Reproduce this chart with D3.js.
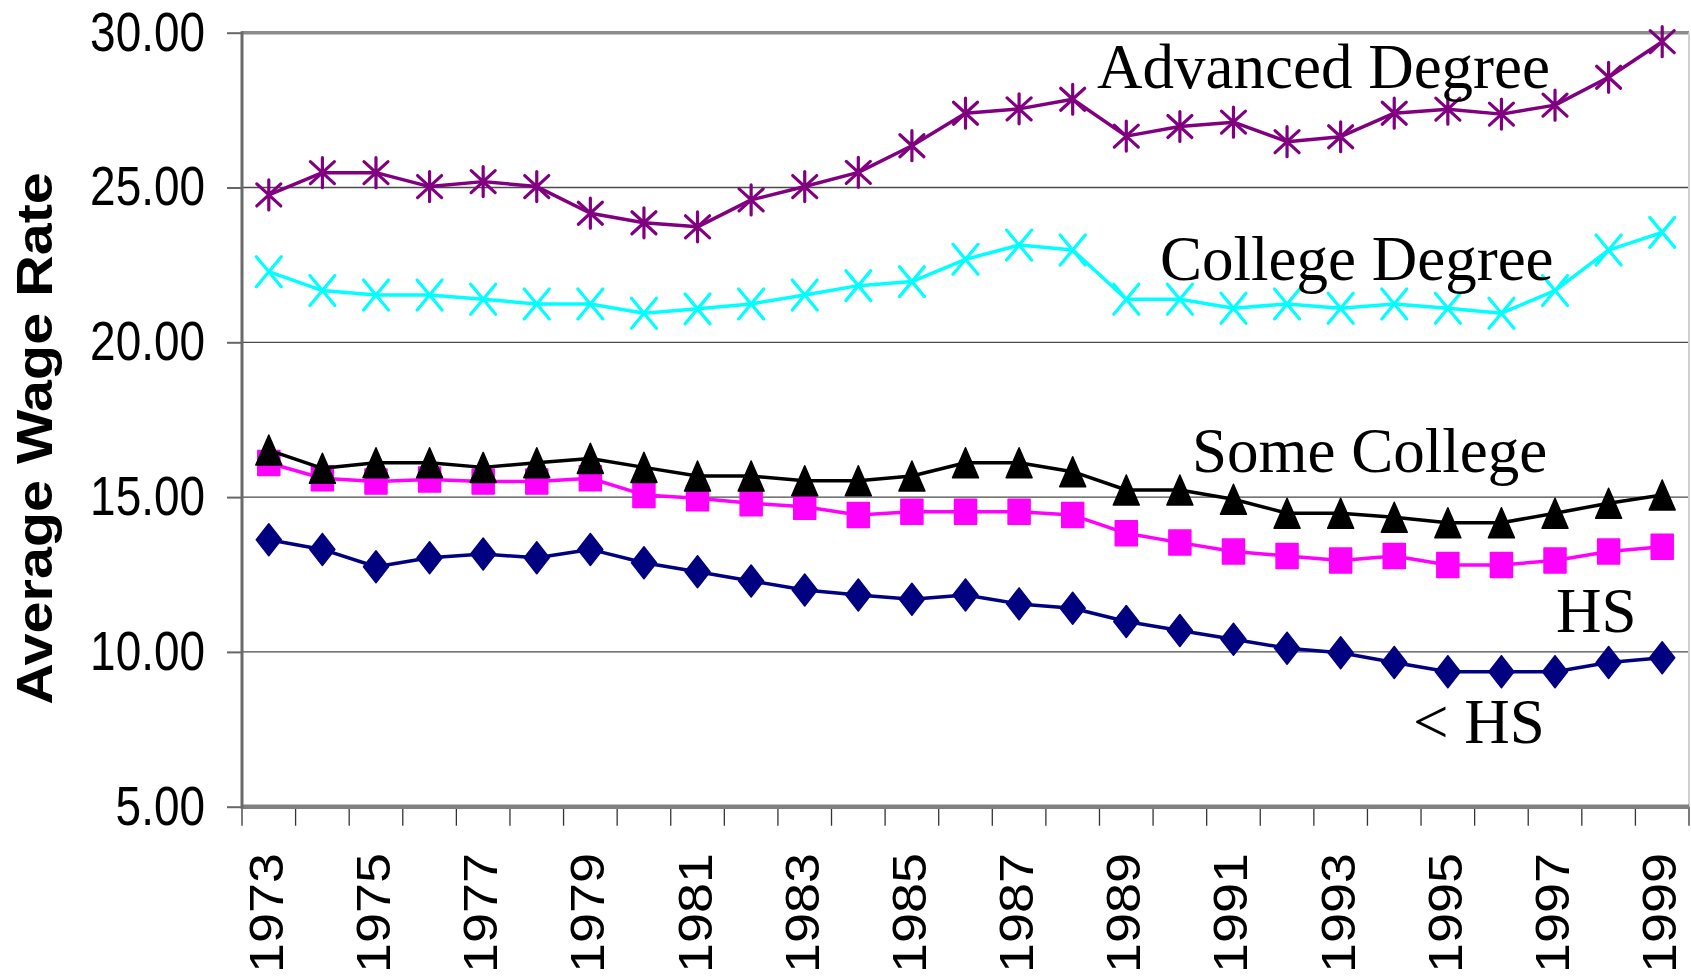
<!DOCTYPE html>
<html>
<head>
<meta charset="utf-8">
<script src="https://cdn.jsdelivr.net/npm/d3@7/dist/d3.min.js"></script>
<style>
body { margin: 0; background: #fff; }
svg { display: block; }
</style>
</head>
<body>
<svg id="chart" width="1691" height="979"></svg>
<script>
var years = [1973, 1974, 1975, 1976, 1977, 1978, 1979, 1980, 1981, 1982, 1983, 1984, 1985, 1986,
	1987, 1988, 1989, 1990, 1991, 1992, 1993, 1994, 1995, 1996, 1997, 1998, 1999];
var yearLabels = [1973, 1975, 1977, 1979, 1981, 1983, 1985, 1987, 1989, 1991, 1993, 1995, 1997, 1999];
var yTicks = [5, 10, 15, 20, 25, 30];

var lessHS = [13.62, 13.31, 12.75, 13.04, 13.16, 13.04, 13.31, 12.88, 12.59, 12.29, 12.00, 11.84, 11.70, 11.84,
	11.55, 11.41, 10.98, 10.69, 10.41, 10.12, 9.97, 9.66, 9.36, 9.36, 9.36, 9.66, 9.81];
var hs = [16.10, 15.61, 15.50, 15.57, 15.50, 15.50, 15.61, 15.07, 14.96, 14.80, 14.69, 14.42, 14.53, 14.53,
	14.53, 14.42, 13.83, 13.53, 13.24, 13.10, 12.95, 13.10, 12.81, 12.81, 12.95, 13.24, 13.40];
var someCollege = [16.52, 15.93, 16.11, 16.11, 15.96, 16.11, 16.25, 15.96, 15.68, 15.68, 15.53, 15.53, 15.68, 16.11,
	16.11, 15.82, 15.23, 15.23, 14.93, 14.48, 14.48, 14.35, 14.17, 14.17, 14.48, 14.80, 15.07];
var college = [22.28, 21.67, 21.53, 21.53, 21.39, 21.24, 21.24, 20.94, 21.08, 21.24, 21.53, 21.83, 21.96, 22.68,
	23.14, 22.98, 21.39, 21.39, 21.10, 21.24, 21.10, 21.24, 21.10, 20.94, 21.67, 22.98, 23.55];
var advanced = [24.76, 25.48, 25.48, 25.03, 25.19, 25.03, 24.17, 23.86, 23.73, 24.60, 25.03, 25.49, 26.35, 27.40,
	27.54, 27.85, 26.66, 26.97, 27.11, 26.48, 26.64, 27.40, 27.53, 27.37, 27.66, 28.56, 29.71];

var seriesNames = ["< HS", "HS", "Some College", "College Degree", "Advanced Degree"];
var yTitle = "Average Wage Rate";

// drawing styles, one per series (same order as seriesNames)
var styles = [
	{ values: lessHS, color: "#000080", marker: "diamond" },
	{ values: hs, color: "#ff00ff", marker: "square" },
	{ values: someCollege, color: "#000000", marker: "triangle" },
	{ values: college, color: "#00ffff", marker: "cross" },
	{ values: advanced, color: "#800080", marker: "star" }
];

// where the series names sit (baseline-left, px)
var labelLayout = [
	{ x: 1413, y: 743 },
	{ x: 1556, y: 632 },
	{ x: 1192, y: 472 },
	{ x: 1160, y: 280 },
	{ x: 1097, y: 88 }
];

var svg = d3.select("#chart");
// note: "top" is reserved on window, so plot* names
var plotLeft = 242, plotRight = 1689, plotTop = 32.7, plotBottom = 806.7;

var x = d3.scaleBand().domain(years).range([plotLeft, plotRight]);
var y = d3.scaleLinear().domain([5, 30]).range([plotBottom, plotTop]);

function cx(year)
{
	return x(year) + x.bandwidth() / 2;
}

// squeeze / stretch a text node along its length
function fitText(sel, ratio)
{
	sel.each(function()
	{
		var w = this.getComputedTextLength();
		d3.select(this)
			.attr("textLength", w * ratio)
			.attr("lengthAdjust", "spacingAndGlyphs");
	});
}

// gridlines
svg.append("g")
	.selectAll("line")
	.data(yTicks.filter(function(d) { return d > 5 && d < 30; }))
	.enter()
	.append("line")
	.attr("x1", plotLeft)
	.attr("x2", plotRight)
	.attr("y1", function(d) { return y(d); })
	.attr("y2", function(d) { return y(d); })
	.attr("stroke", "#4a4a4a")
	.attr("stroke-width", 1.3);

// y axis
var yAxis = d3.axisLeft(y)
	.tickValues(yTicks)
	.tickSize(15)
	.tickPadding(22)
	.tickFormat(d3.format(".2f"));

var yAxisG = svg.append("g")
	.attr("transform", "translate(" + plotLeft + ",0)")
	.call(yAxis);

yAxisG.select(".domain").remove();
yAxisG.selectAll(".tick line").attr("stroke", "#666").attr("stroke-width", 2);
yAxisG.selectAll(".tick text")
	.attr("font-family", "'Liberation Sans', Arial, sans-serif")
	.attr("font-size", 56)
	.attr("fill", "#000")
	.attr("dy", "0.31em")
	.call(fitText, 0.82);

// plot frame
svg.append("line")
	.attr("x1", plotLeft).attr("x2", plotRight).attr("y1", plotTop).attr("y2", plotTop)
	.attr("stroke", "#8c8c8c").attr("stroke-width", 3.5);
svg.append("line")
	.attr("x1", plotRight).attr("x2", plotRight).attr("y1", plotTop).attr("y2", plotBottom)
	.attr("stroke", "#cfcfcf").attr("stroke-width", 2);

// x ticks on category boundaries
var bounds = years.map(function(d) { return x(d); }).concat([plotRight]);
svg.append("g")
	.selectAll("line")
	.data(bounds)
	.enter()
	.append("line")
	.attr("x1", function(d) { return d; })
	.attr("x2", function(d) { return d; })
	.attr("y1", plotBottom)
	.attr("y2", plotBottom + 19)
	.attr("stroke", "#333")
	.attr("stroke-width", 1.3);

svg.append("line")
	.attr("x1", plotLeft).attr("x2", plotRight).attr("y1", plotBottom).attr("y2", plotBottom)
	.attr("stroke", "#808080").attr("stroke-width", 4.5);
svg.append("line")
	.attr("x1", plotLeft).attr("x2", plotLeft).attr("y1", plotTop - 1.5).attr("y2", plotBottom + 2)
	.attr("stroke", "#6a6a6a").attr("stroke-width", 3);

// x labels
svg.append("g")
	.selectAll("text")
	.data(yearLabels)
	.enter()
	.append("text")
	.attr("transform", function(d)
	{
		return "translate(" + (cx(d) + 14) + "," + 853 + ") rotate(-90)";
	})
	.attr("text-anchor", "end")
	.attr("font-family", "'Liberation Sans', Arial, sans-serif")
	.attr("font-size", 49)
	.text(function(d) { return d; })
	.call(fitText, 1.1);

// y title
svg.append("text")
	.attr("transform", "translate(52,438.5) rotate(-90)")
	.attr("text-anchor", "middle")
	.attr("font-family", "'Liberation Sans', Arial, sans-serif")
	.attr("font-weight", "bold")
	.attr("font-size", 50)
	.text(yTitle)
	.call(fitText, 1.15);

// marker shapes
function markerPath(type)
{
	if (type == "diamond") return "M0,-16L12.5,0L0,16L-12.5,0Z";
	if (type == "square") return "M-11,-12.5H11V12.5H-11Z";
	if (type == "triangle") return "M0,-15L13,15H-13Z";
	if (type == "cross") return "M-12.5,-15L12.5,15M-12.5,15L12.5,-15";
	return "M0,-15V15M-12,-11L12,11M-12,11L12,-11";
}

var line = d3.line()
	.x(function(d, i) { return cx(years[i]); })
	.y(function(d) { return y(d); });

styles.forEach(function(s)
{
	var g = svg.append("g");

	g.append("path")
		.attr("d", line(s.values))
		.attr("fill", "none")
		.attr("stroke", s.color)
		.attr("stroke-width", 3.5)
		.attr("stroke-linejoin", "round");

	var filled = (s.marker == "diamond" || s.marker == "square" || s.marker == "triangle");

	g.selectAll(".mk")
		.data(s.values)
		.enter()
		.append("path")
		.attr("class", "mk")
		.attr("transform", function(d, i)
		{
			return "translate(" + cx(years[i]) + "," + y(d) + ")";
		})
		.attr("d", markerPath(s.marker))
		.attr("fill", filled ? s.color : "none")
		.attr("stroke", s.color)
		.attr("stroke-width", filled ? 1.5 : 3.2)
		.attr("stroke-linejoin", "round")
		.attr("stroke-linecap", "round");
});

// series names
svg.append("g")
	.selectAll("text")
	.data(seriesNames)
	.enter()
	.append("text")
	.attr("x", function(d, i) { return labelLayout[i].x; })
	.attr("y", function(d, i) { return labelLayout[i].y; })
	.attr("font-family", "'Liberation Serif', 'Times New Roman', serif")
	.attr("font-size", 63)
	.attr("fill", "#000")
	.text(function(d) { return d; });
</script>
</body>
</html>
